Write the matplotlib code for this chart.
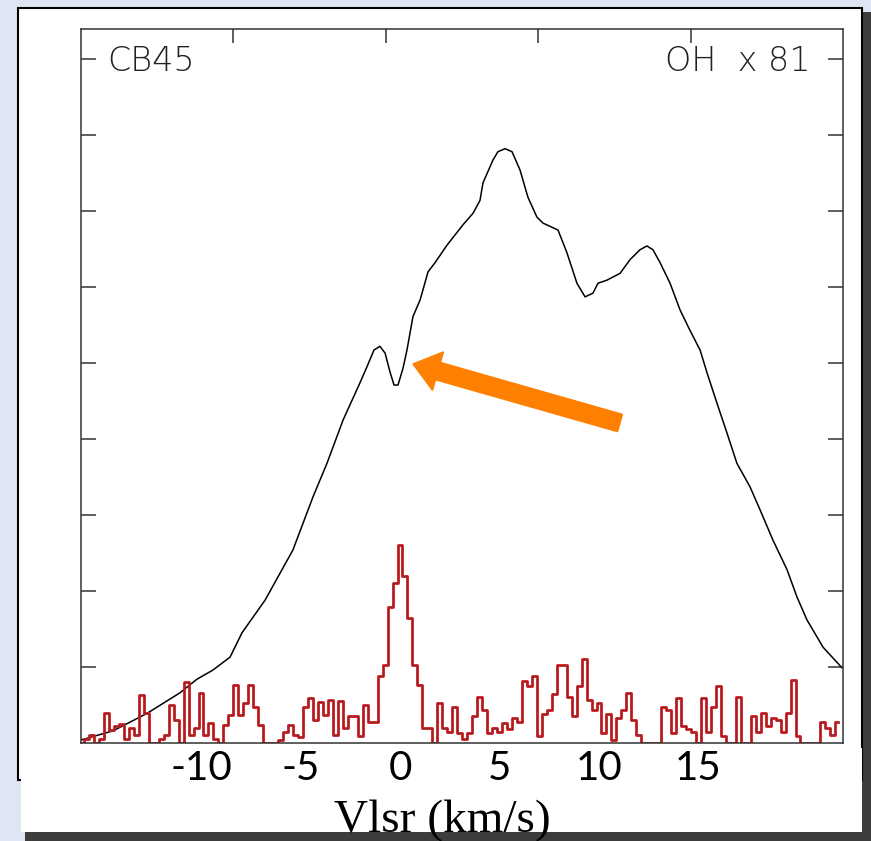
import numpy as np
import matplotlib.pyplot as plt
import matplotlib.transforms as mtransforms
from matplotlib.patches import Rectangle, FancyArrow

# OH line, black smooth spectrum (km/s, antenna temp in tick units)
oh_v = [-16.03, -14.42, -12.71, -11.06, -10.20, -9.40, -8.54, -7.94, -6.78, -5.38,
        -4.37, -3.67, -2.86, -2.01, -1.66, -1.31, -1.01, -0.75, -0.50, -0.30,
        -0.10, 0.15, 0.35, 0.65, 1.01, 1.41, 1.76, 2.36, 3.17, 3.67,
        4.02, 4.17, 4.67, 4.92, 5.28, 5.63, 6.03, 6.43, 6.88, 7.19,
        7.94, 8.39, 8.89, 9.30, 9.70, 9.95, 10.40, 11.06, 11.56, 12.06,
        12.41, 12.71, 13.07, 13.57, 14.07, 14.57, 15.08, 15.43, 15.93, 16.43,
        16.93, 17.59, 18.09, 18.74, 19.45, 19.95, 20.45, 21.26, 22.21]
oh_t = [0.04, 0.16, 0.39, 0.66, 0.84, 0.96, 1.13, 1.45, 1.88, 2.54,
        3.24, 3.68, 4.25, 4.74, 4.95, 5.17, 5.22, 5.13, 4.88, 4.71,
        4.71, 4.93, 5.17, 5.61, 5.83, 6.20, 6.32, 6.55, 6.82, 6.97,
        7.14, 7.37, 7.67, 7.78, 7.82, 7.78, 7.54, 7.18, 6.92, 6.84,
        6.75, 6.45, 6.05, 5.87, 5.92, 6.05, 6.09, 6.18, 6.36, 6.49,
        6.54, 6.49, 6.32, 6.05, 5.70, 5.43, 5.17, 4.87, 4.47, 4.08,
        3.68, 3.37, 3.07, 2.67, 2.28, 1.92, 1.62, 1.26, 0.99]

# red (x81) spectrum, 0.25 km/s channels starting at -16 km/s
red_t = [0.00, 0.05, 0.10, 0.00, 0.05, 0.40, 0.17, 0.22, 0.25, 0.05,
         0.20, 0.10, 0.63, 0.40, 0.00, 0.00, 0.05, 0.10, 0.50, 0.30,
         0.00, 0.80, 0.10, 0.20, 0.66, 0.10, 0.26, 0.05, 0.00, 0.24,
         0.37, 0.76, 0.37, 0.53, 0.76, 0.47, 0.24, 0.00, 0.00, 0.00,
         0.04, 0.15, 0.24, 0.10, 0.08, 0.47, 0.59, 0.30, 0.54, 0.37,
         0.57, 0.10, 0.55, 0.20, 0.35, 0.35, 0.09, 0.50, 0.28, 0.28,
         0.88, 1.03, 1.79, 2.10, 2.60, 2.20, 1.64, 1.03, 0.76, 0.20,
         0.20, 0.00, 0.52, 0.20, 0.15, 0.48, 0.13, 0.05, 0.13, 0.35,
         0.61, 0.44, 0.13, 0.20, 0.15, 0.26, 0.18, 0.33, 0.28, 0.81,
         0.75, 0.88, 0.09, 0.38, 0.44, 0.64, 1.03, 1.03, 0.61, 0.35,
         0.75, 1.10, 0.57, 0.44, 0.53, 0.13, 0.38, 0.04, 0.33, 0.44,
         0.66, 0.30, 0.10, 0.00, 0.00, 0.00, 0.00, 0.48, 0.44, 0.13,
         0.59, 0.22, 0.18, 0.15, 0.00, 0.59, 0.15, 0.48, 0.75, 0.09,
         0.00, 0.00, 0.61, 0.00, 0.00, 0.35, 0.15, 0.40, 0.22, 0.33,
         0.30, 0.15, 0.40, 0.83, 0.09, 0.00, 0.00, 0.00, 0.00, 0.28,
         0.20, 0.10, 0.28]
red_v = -16.0 + 0.25 * np.arange(len(red_t))

vel_labels = [-10, -5, 0, 5, 10, 15]

W, H = 871, 841
fig = plt.figure(figsize=(W / 100, H / 100), dpi=100)
fig.patch.set_facecolor('#dde6f2')
px = mtransforms.Affine2D().scale(1 / W, 1 / H) + fig.transFigure


def box(x0, y0, x1, y1, **kw):
    # rectangle given in image pixels (y from top)
    r = Rectangle((x0, H - y1), x1 - x0, y1 - y0, transform=px, **kw)
    fig.patches.append(r)


box(25, 12, 871, 841, facecolor='#3c3c3c', edgecolor='none', zorder=-3)
box(18, 8, 862, 780, facecolor='white', edgecolor='black', lw=1.5, zorder=-2)
box(21, 748, 862, 832, facecolor='white', edgecolor='none', zorder=-1)

ax = fig.add_axes([81 / W, 1 - 743 / H, 762 / W, 714 / H])
ax.set_zorder(1)
ax.plot(oh_v, oh_t, color='black', lw=1.1)
ax.step(red_v, red_t, where='mid', color='#e3141b', lw=2.0)
ax.step(red_v, red_t, where='mid', color='#8e2a2a', lw=0.9)

x0, x1 = (81 - 400) / 19.9, (843 - 400) / 19.9
ax.set_xlim(x0, x1)
ax.set_ylim(0, 714 / 76)
for s in ax.spines.values():
    s.set_linewidth(1.1)
    s.set_color('#333333')

ax.set_xticks(vel_labels)
ax.set_xticklabels([str(v) for v in vel_labels], family='Lato', fontsize=29)
ax.tick_params(axis='x', which='major', bottom=True, top=False, length=0, pad=5)
ax.set_xticks(np.linspace(x0, x1, 6)[1:-1], minor=True)
ax.tick_params(axis='x', which='minor', bottom=False, top=True, direction='in',
               length=10, width=1.1, color='#333333')
ax.set_yticks(range(1, 10))
ax.tick_params(axis='y', left=True, right=True, labelleft=False, direction='in',
               length=11, width=1.1, color='#333333')

ax.text(0.034, 0.954, 'CB45', transform=ax.transAxes, ha='left', va='center',
        fontsize=24, fontweight='light', color='#222222')
ax.text(0.958, 0.954, 'OH  x 81', transform=ax.transAxes, ha='right', va='center',
        fontsize=24, fontweight='light', color='#222222')

arrow = FancyArrow(620, H - 423, 413 - 620, 423 - 364, width=18, head_width=40,
                   head_length=26, length_includes_head=True, transform=px,
                   color='#ff8000', zorder=5)
fig.patches.append(arrow)

fig.text(442 / W, 1 - 832 / H, 'Vlsr (km/s)', ha='center', va='baseline',
         family='Liberation Serif', fontsize=34, zorder=6)

fig.savefig('out.png', dpi=100)
